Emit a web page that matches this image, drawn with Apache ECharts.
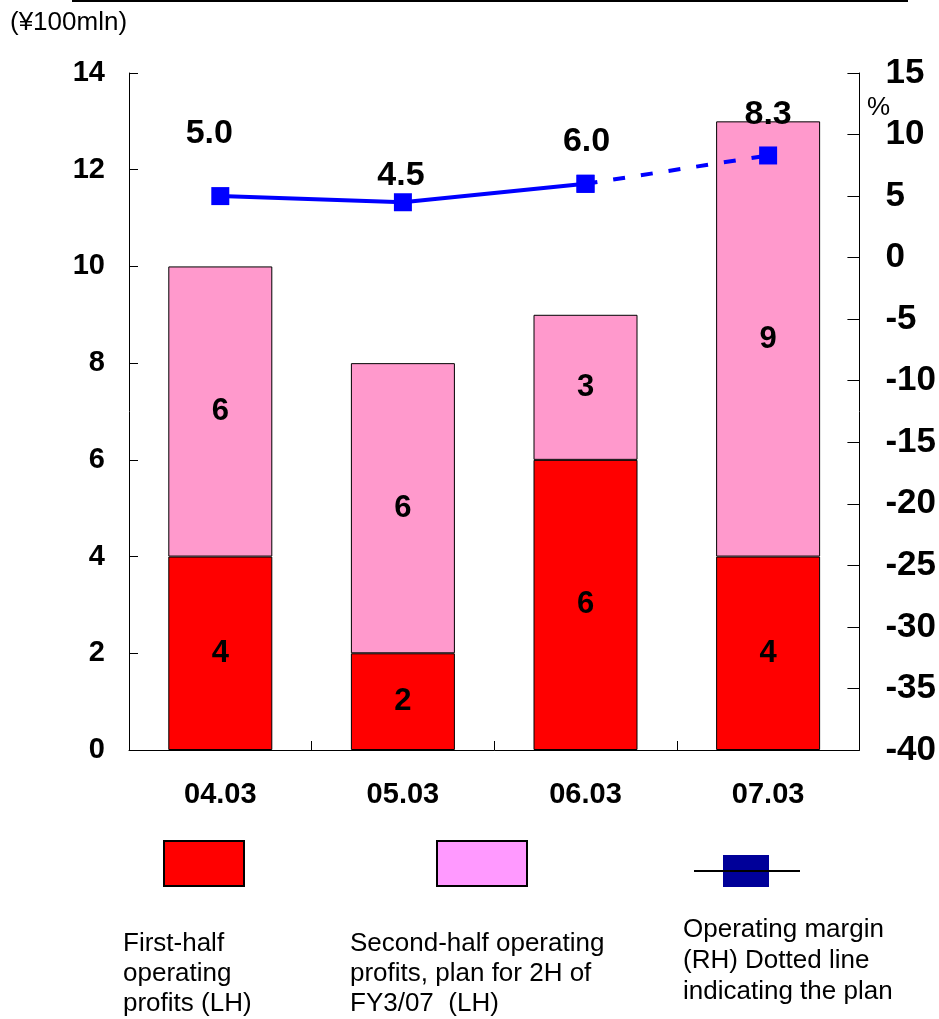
<!DOCTYPE html>
<html>
<head>
<meta charset="utf-8">
<script src="https://cdn.jsdelivr.net/npm/echarts@6/dist/echarts.min.js"></script>
<style>
  html, body { margin: 0; padding: 0; background: #fff; }
  #chart { width: 939px; height: 1019px; }
</style>
</head>
<body>
<div id="chart"></div>
<script>
// Operating profits by fiscal year (¥100mln) and operating margin (%)
const categories = ['04.03', '05.03', '06.03', '07.03'];
const firstHalf = [4, 2, 6, 4];
const secondHalf = [6, 6, 3, 9];
const marginActual = [5.0, 4.5, 6.0, null];
const marginPlan = [null, null, 6.0, 8.3];
// label placement for margin values (pixels relative to the marker)
const marginLabelOffsets = [[-11, -62], [-2, -27], [1, -42], [0, -41]];

const leftTicks = { min: 0, max: 14, interval: 2 };
const rightTicks = { min: -40, max: 15, interval: 5 };

const FONT = '"Liberation Sans", Arial, sans-serif';

const chart = echarts.init(document.getElementById('chart'), null, { renderer: 'canvas' });

const marginSolidData = marginActual.map((v, i) => v == null ? null : {
  value: v,
  label: {
    show: i < 3,
    position: 'inside',
    offset: marginLabelOffsets[i],
    formatter: p => p.value.toFixed(1)
  }
});
const marginPlanData = marginPlan.map((v, i) => v == null ? null : {
  value: v,
  label: {
    show: i === 3,
    position: 'inside',
    offset: marginLabelOffsets[i],
    formatter: p => p.value.toFixed(1)
  }
});

const lineLabelStyle = { color: '#000', fontSize: 34, fontWeight: 'bold', fontFamily: FONT };
const barLabelStyle = { show: true, position: 'inside', color: '#000', fontSize: 31, fontWeight: 'bold', fontFamily: FONT };

chart.setOption({
  animation: false,
  backgroundColor: '#fff',
  textStyle: { fontFamily: FONT },
  grid: { left: 129, right: 79, top: 73, bottom: 269 },
  xAxis: {
    type: 'category',
    data: categories,
    axisLine: { lineStyle: { color: '#000', width: 1 } },
    axisTick: { show: true, inside: true, length: 9, lineStyle: { color: '#000' } },
    axisLabel: { color: '#000', fontSize: 29, fontWeight: 'bold', fontFamily: FONT, margin: 30 }
  },
  yAxis: [
    {
      type: 'value',
      min: leftTicks.min, max: leftTicks.max, interval: leftTicks.interval,
      axisLine: { show: true, lineStyle: { color: '#000', width: 1 } },
      axisTick: { show: true, inside: true, length: 9, lineStyle: { color: '#000' } },
      splitLine: { show: false },
      axisLabel: { color: '#000', fontSize: 29, fontWeight: 'bold', fontFamily: FONT, margin: 24 }
    },
    {
      type: 'value',
      position: 'right',
      min: rightTicks.min, max: rightTicks.max, interval: rightTicks.interval,
      axisLine: { show: true, lineStyle: { color: '#000', width: 1 } },
      axisTick: { show: true, inside: true, length: 12, lineStyle: { color: '#000' } },
      splitLine: { show: false },
      axisLabel: { color: '#000', fontSize: 35, fontWeight: 'bold', fontFamily: FONT, margin: 26 }
    }
  ],
  series: [
    {
      name: 'First-half operating profits (LH)',
      type: 'bar',
      stack: 'op',
      yAxisIndex: 0,
      barWidth: 104,
      data: firstHalf,
      itemStyle: { color: '#FF0000', borderColor: '#000', borderWidth: 1 },
      label: barLabelStyle
    },
    {
      name: 'Second-half operating profits, plan for 2H of FY3/07 (LH)',
      type: 'bar',
      stack: 'op',
      yAxisIndex: 0,
      barWidth: 104,
      data: secondHalf,
      itemStyle: { color: '#FF99CC', borderColor: '#000', borderWidth: 1 },
      label: barLabelStyle
    },
    {
      name: 'Operating margin (RH)',
      type: 'line',
      yAxisIndex: 1,
      data: marginSolidData,
      symbol: 'rect',
      symbolSize: 18,
      lineStyle: { color: '#0000FF', width: 4 },
      itemStyle: { color: '#0000FF' },
      label: lineLabelStyle,
      z: 5
    },
    {
      name: 'Operating margin plan (RH)',
      type: 'line',
      yAxisIndex: 1,
      data: marginPlanData,
      symbol: 'rect',
      symbolSize: 18,
      lineStyle: { color: '#0000FF', width: 4, type: [12, 16] },
      itemStyle: { color: '#0000FF' },
      label: lineLabelStyle,
      z: 5
    }
  ],
  graphic: [
    // rule across the top
    { type: 'line', shape: { x1: 72, y1: 1, x2: 908, y2: 1 }, style: { stroke: '#000', lineWidth: 2 } },
    // unit captions
    { type: 'text', left: 10, top: 10, style: { text: '(¥100mln)', fontSize: 26, fontFamily: FONT, fill: '#000' } },
    { type: 'text', left: 867, top: 95, style: { text: '%', fontSize: 26, fontFamily: FONT, fill: '#000' } },
    // legend swatches
    { type: 'rect', shape: { x: 164, y: 841, width: 80, height: 45 }, style: { fill: '#FF0000', stroke: '#000', lineWidth: 2 } },
    { type: 'rect', shape: { x: 437, y: 841, width: 90, height: 45 }, style: { fill: '#FF99FF', stroke: '#000', lineWidth: 2 } },
    { type: 'rect', shape: { x: 723, y: 855, width: 46, height: 32 }, style: { fill: '#000099' } },
    { type: 'line', shape: { x1: 694, y1: 871, x2: 800, y2: 871 }, style: { stroke: '#000', lineWidth: 2 } },
    // legend captions
    { type: 'text', left: 123, top: 929, style: { text: 'First-half\noperating\nprofits (LH)', fontSize: 26, lineHeight: 30, fontFamily: FONT, fill: '#000' } },
    { type: 'text', left: 350, top: 929, style: { text: 'Second-half operating\nprofits, plan for 2H of\nFY3/07  (LH)', fontSize: 26, lineHeight: 30, fontFamily: FONT, fill: '#000' } },
    { type: 'text', left: 683, top: 914, style: { text: 'Operating margin\n(RH) Dotted line\nindicating the plan', fontSize: 26, lineHeight: 31, fontFamily: FONT, fill: '#000' } }
  ]
});
</script>
</body>
</html>
